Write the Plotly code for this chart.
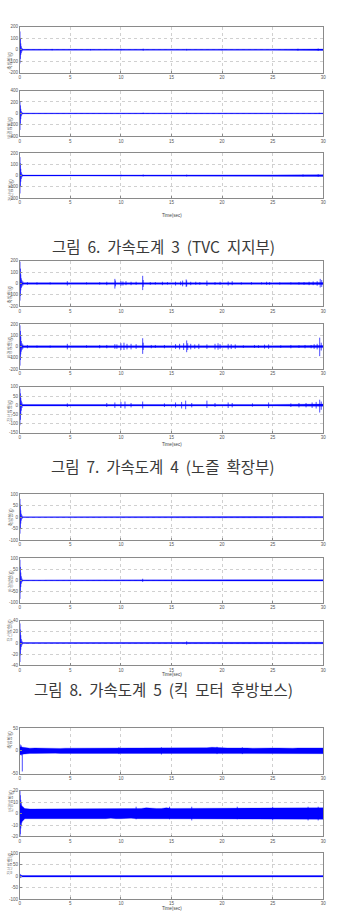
import plotly.graph_objects as go

# ---------------- data ----------------
X_TICKS = [0, 5, 10, 15, 20, 25, 30]
AXIS_NAMES = ["축방향(g)", "반경방향(g)", "접선방향(g)"]
X_TITLE = "Time(sec)"
CAPTIONS = ["그림  6.  가속도계  3  (TVC  지지부)",
            "그림  7.  가속도계  4  (노즐  확장부)",
            "그림  8.  가속도계  5  (킥  모터  후방보스)"]

# y tick values for the 12 panels
Y_TICKS = [
    [-200, -100, 0, 100, 200], [-400, -200, 0, 200, 400], [-200, -100, 0, 100, 200],
    [-200, -100, 0, 100, 200], [-200, -100, 0, 100, 200], [-150, -100, -50, 0, 50, 100],
    [-100, -50, 0, 50, 100], [-100, -50, 0, 50, 100], [-40, -20, 0, 20, 40],
    [-50, 0, 50], [-20, -10, 0, 10, 20], [-100, -50, 0, 50, 100],
]

# envelope of the continuous noise band: times, upper, lower
BAND_T = [0, 5, 10, 15, 20, 25, 30]
F1P1_HI = [4, 3, 4, 4, 4, 5, 6];      F1P1_LO = [-4, -3, -4, -4, -4, -5, -6]
F1P2_HI = [6, 5, 6, 6, 6, 6, 7];      F1P2_LO = [-6, -5, -6, -6, -6, -6, -7]
F1P3_HI = [4, 3, 4, 5, 5, 6, 8];      F1P3_LO = [-4, -3, -4, -5, -5, -6, -8]
F2P1_HI = [7, 6, 7, 7, 7, 7, 8];      F2P1_LO = [-7, -6, -7, -7, -7, -7, -8]
F2P2_HI = [7, 6, 8, 8, 8, 7, 9];      F2P2_LO = [-7, -6, -8, -8, -8, -7, -9]
F2P3_HI = [4, 3.5, 4, 5, 4, 4, 6];    F2P3_LO = [-4, -3.5, -4, -5, -4, -4, -6]
F3P1_HI = [1.5, 1.5, 2, 2, 2, 2.5, 3];  F3P1_LO = [-1.5, -1.5, -2, -2, -2, -2.5, -3]
F3P2_HI = [2, 2, 2, 2, 2, 2.5, 3];      F3P2_LO = [-2, -2, -2, -2, -2, -2.5, -3]
F3P3_HI = [0.8, 0.8, 1, 1, 1, 1.1, 1.3]; F3P3_LO = [-0.8, -0.8, -1, -1, -1, -1.1, -1.3]
F4P3_HI = [3, 3, 3, 3, 3, 3, 3];      F4P3_LO = [-3, -3, -3, -3, -3, -3, -3]

# wider noise bands of figure 8, every 0.5 s
BAND_T_FINE = [i * 0.5 for i in range(61)]
F4P1_HI = [9, 7, 6, 6.5, 6, 6, 6.5, 6, 5.5, 6, 6, 6.5, 6, 6, 6.5, 6, 6, 6.5, 7, 6.5,
           6.5, 7, 7, 6.5, 7, 7.5, 7, 7, 6.5, 7, 7, 7.5, 7, 6.5, 7, 7, 7.5, 7, 8, 7,
           7, 6.5, 6.5, 7, 6.5, 6.5, 6, 6.5, 6.5, 6, 6.5, 6.5, 6, 6.5, 6, 6.5, 6.5, 6, 6.5, 6.5, 6.5]
F4P1_LO = [-8, -6, -5.5, -5.5, -5, -5.5, -5.5, -5, -5.5, -5.5, -5.5, -6, -5.5, -5.5, -6, -5.5, -6, -6, -5.5, -6.5,
           -6, -6, -6.5, -6, -7, -6, -6.5, -6, -6.5, -6.5, -6, -6.5, -7, -6, -6.5, -6, -6.5, -6.5, -6, -7,
           -6, -6.5, -6, -6, -6, -6.5, -6, -6, -6, -6, -6.5, -6, -6, -6, -6, -6.5, -6, -6, -6.5, -6, -6]
F4P2_HI = [8, 4.5, 4, 4, 4, 4.5, 4, 4, 4.5, 4, 4, 4.5, 4, 4.5, 4, 4.5, 4.5, 4, 4.5, 4.5,
           4.5, 4, 4.5, 4.5, 4.5, 5, 4.5, 4.5, 4.5, 5, 4.5, 4.5, 5, 4.5, 4.5, 5, 4.5, 5, 4.5, 4.5,
           4.5, 5, 4.5, 4.5, 5, 4.5, 5, 4.5, 4.5, 5, 4.5, 5, 5, 4.5, 5, 5, 5, 5, 5, 5, 5]
F4P2_LO = [-9, -4.5, -4, -4, -4.5, -4, -4, -4.5, -4, -4, -4.5, -4, -4.5, -4, -4.5, -4, -4.5, -4.5, -4, -4.5,
           -4.5, -4.5, -4, -4.5, -5, -4.5, -4.5, -4.5, -5, -4.5, -4.5, -5, -4.5, -4.5, -5, -4.5, -4.5, -5, -4.5, -4.5,
           -4.5, -4.5, -5, -4.5, -4.5, -4.5, -5, -4.5, -4.5, -4.5, -5, -4.5, -4.5, -5, -4.5, -5, -4.5, -5, -5, -5, -5]

# bursts / spikes: (time, upper, lower)
F1P1_SPK = [(0.02, 160, -120), (0.06, 100, -80), (0.1, 55, -45), (0.15, 30, -30), (0.22, 15, -15),
            (3.2, 7, -5), (7.0, 6, -5), (10.0, 8, -6), (12.2, 9, -8), (16.5, 7, -6), (20.0, 7, -5),
            (27.5, 9, -8), (29.5, 11, -10)]
F1P2_SPK = [(0.02, 215, -290), (0.06, 140, -180), (0.1, 80, -100), (0.15, 40, -50), (0.22, 20, -20),
            (12.2, 12, -10), (16.5, 12, -10), (29.6, 10, -10)]
F1P3_SPK = [(0.02, 165, -160), (0.06, 110, -100), (0.1, 60, -55), (0.15, 30, -30), (0.22, 15, -15),
            (10.0, 8, -7), (12.2, 9, -8), (16.5, 8, -8), (28.0, 10, -9), (29.5, 12, -11)]
F2P1_SPK = [(0.02, 190, -150), (0.06, 130, -110), (0.1, 80, -60), (0.15, 45, -40), (0.2, 30, -30), (0.3, 20, -20),
            (0.75, 12, -12), (1.7, 10, -10), (3.0, 10, -8), (4.7, 20, -18), (6.6, 10, -8), (7.9, 12, -10),
            (8.6, 15, -15), (9.4, 40, -45), (9.45, 25, -25), (10.0, 20, -20), (10.2, 18, -18), (10.5, 20, -15),
            (11.0, 15, -15), (11.5, 15, -12), (12.15, 67, -58), (12.2, 30, -30), (12.9, 12, -12), (13.4, 12, -10),
            (14.1, 15, -15), (14.6, 12, -10), (15.4, 15, -18), (15.9, 18, -15), (16.1, 25, -25), (16.45, 35, -30),
            (16.5, 25, -25), (16.9, 15, -15), (17.4, 15, -12), (17.8, 12, -12), (18.5, 25, -22), (19.3, 12, -12),
            (19.8, 15, -12), (20.6, 18, -18), (21.0, 20, -15), (21.9, 10, -10), (22.9, 12, -10), (23.9, 10, -8),
            (24.4, 15, -12), (24.7, 12, -12), (25.7, 10, -10), (26.8, 10, -8), (27.6, 12, -10), (28.1, 12, -12),
            (28.6, 15, -15), (29.0, 18, -15), (29.4, 20, -20), (29.7, 40, -35), (29.85, 30, -30)]
F2P2_SPK = [(0.02, 190, -170), (0.06, 140, -120), (0.1, 90, -70), (0.15, 50, -45), (0.22, 30, -30), (0.3, 20, -20),
            (0.75, 15, -15), (1.7, 10, -10), (3.0, 10, -10), (4.7, 25, -25), (6.6, 12, -10), (7.9, 15, -15),
            (8.6, 15, -15), (9.4, 22, -20), (9.6, 20, -20), (10.0, 30, -30), (10.3, 35, -30), (10.6, 25, -25),
            (11.0, 25, -25), (11.5, 22, -20), (12.15, 75, -65), (12.2, 35, -30), (13.0, 15, -15), (13.4, 15, -12),
            (14.3, 15, -15), (15.4, 22, -20), (15.8, 25, -25), (16.2, 30, -30), (16.5, 55, -50), (16.6, 30, -30),
            (16.9, 25, -25), (17.3, 20, -20), (17.7, 25, -22), (18.5, 20, -20), (19.3, 25, -25), (19.6, 30, -28),
            (19.8, 22, -20), (20.6, 25, -25), (20.9, 22, -22), (21.3, 20, -20), (22.1, 12, -12), (23.2, 15, -12),
            (23.6, 12, -12), (24.2, 18, -18), (24.6, 20, -20), (25.8, 12, -12), (26.8, 15, -15), (27.6, 12, -12),
            (28.2, 15, -15), (28.8, 15, -15), (29.1, 22, -20), (29.4, 25, -25), (29.65, 80, -85), (29.8, 35, -35)]
F2P3_SPK = [(0.02, 90, -110), (0.06, 65, -80), (0.1, 40, -50), (0.15, 25, -30), (0.22, 15, -15),
            (4.7, 10, -10), (8.6, 12, -10), (9.4, 15, -15), (10.0, 18, -15), (10.4, 20, -18), (11.0, 12, -12),
            (12.15, 20, -18), (14.3, 10, -10), (15.4, 15, -12), (16.0, 18, -18), (16.4, 25, -22), (17.0, 12, -12),
            (18.5, 25, -15), (19.3, 12, -10), (20.6, 15, -15), (21.0, 12, -12), (23.0, 10, -8), (24.6, 15, -15),
            (26.8, 10, -10), (27.6, 12, -12), (28.3, 12, -12), (28.9, 15, -15), (29.3, 18, -18), (29.65, 30, -40),
            (29.8, 20, -25)]
F3P1_SPK = [(0.02, 80, -72), (0.06, 55, -50), (0.1, 30, -28), (0.15, 15, -15), (0.22, 8, -8)]
F3P2_SPK = [(0.02, 92, -83), (0.06, 60, -55), (0.1, 35, -30), (0.15, 18, -15), (0.22, 8, -8), (12.15, 7, -7)]
F3P3_SPK = [(0.02, 35, -34), (0.06, 24, -22), (0.1, 14, -12), (0.15, 7, -7), (0.22, 4, -4), (16.5, 3, -3)]
F4P1_SPK = [(0.05, 14, -9), (0.15, 12, -10), (0.25, 0, -45), (9.8, 8, -7), (14.0, 8, -8), (19.5, 9, -7), (22.0, 8, -7)]
F4P2_SPK = [(0.02, 20, -20), (0.05, 16, -18), (0.1, 12, -13), (0.15, 9, -10), (0.2, 7, -8), (0.3, 6, -6),
            (11.5, 6, -5), (14.8, 6, -5), (17.0, 6, -6), (21.5, 6, -5), (25.0, 6, -6), (28.5, 6, -6), (29.5, 6, -6)]
F4P3_SPK = [(0.05, 10, -8), (0.15, 6, -5)]

PANELS = [
    (BAND_T, F1P1_HI, F1P1_LO, F1P1_SPK), (BAND_T, F1P2_HI, F1P2_LO, F1P2_SPK), (BAND_T, F1P3_HI, F1P3_LO, F1P3_SPK),
    (BAND_T, F2P1_HI, F2P1_LO, F2P1_SPK), (BAND_T, F2P2_HI, F2P2_LO, F2P2_SPK), (BAND_T, F2P3_HI, F2P3_LO, F2P3_SPK),
    (BAND_T, F3P1_HI, F3P1_LO, F3P1_SPK), (BAND_T, F3P2_HI, F3P2_LO, F3P2_SPK), (BAND_T, F3P3_HI, F3P3_LO, F3P3_SPK),
    (BAND_T_FINE, F4P1_HI, F4P1_LO, F4P1_SPK), (BAND_T_FINE, F4P2_HI, F4P2_LO, F4P2_SPK), (BAND_T, F4P3_HI, F4P3_LO, F4P3_SPK),
]

# ---------------- layout (pixels) ----------------
W, H = 347, 921
X_LEFT, X_RIGHT = 19, 326
PANEL_PX = [(25, 71), (89, 135), (152, 197),
            (260, 306), (324, 369), (387, 433),
            (495, 541), (559, 604), (622, 667),
            (730, 776), (793, 839), (856, 902)]
XTITLE_PX = [210, 445, 681, 916]
CAPTION_PX = [232, 467, 704]
CAPTION_X = 164

BLUE = "#0000ff"
TICKFONT = dict(family="Liberation Sans, Arial", size=4.5, color="#555")


def py(p):
    return 1 - p / H


fig = go.Figure()
layout = {}
annotations = []
for i, ((bt, hi, lo, spk), (top, bot), yt) in enumerate(zip(PANELS, PANEL_PX, Y_TICKS)):
    n = "" if i == 0 else str(i + 1)
    xa, ya = "x" + n, "y" + n
    fig.add_trace(go.Scatter(
        x=list(bt) + list(bt)[::-1], y=list(hi) + list(lo)[::-1],
        xaxis=xa, yaxis=ya, mode="lines", fill="toself", fillcolor=BLUE,
        line=dict(color=BLUE, width=0.3), hoverinfo="skip", showlegend=False))
    sx, sy = [], []
    for t, h, l in spk:
        sx += [t, t, None]
        sy += [l, h, None]
    fig.add_trace(go.Scatter(x=sx, y=sy, xaxis=xa, yaxis=ya, mode="lines",
                             line=dict(color=BLUE, width=0.7), hoverinfo="skip", showlegend=False))
    common = dict(showgrid=True, gridcolor="#d0d0d0", griddash="dot", gridwidth=0.6,
                  showline=True, mirror=True, linecolor="#8a8a8a", linewidth=0.8,
                  ticks="inside", ticklen=2, tickcolor="#8a8a8a", tickwidth=0.6,
                  zeroline=False, tickfont=TICKFONT)
    layout["xaxis" + n] = dict(domain=[X_LEFT / W, X_RIGHT / W], anchor=ya, range=[0, 30],
                               tickvals=X_TICKS, ticktext=[str(v) for v in X_TICKS], **common)
    layout["yaxis" + n] = dict(domain=[py(bot), py(top)], anchor=xa, range=[yt[0], yt[-1]],
                               tickvals=yt, ticktext=[str(v) for v in yt], **common)
    annotations.append(dict(x=3.5 / W, y=py((top + bot) / 2), xref="paper", yref="paper",
                            text=AXIS_NAMES[i % 3], textangle=-90, showarrow=False,
                            font=dict(family="Noto Sans CJK KR", size=4.5, color="#666")))

for yp in XTITLE_PX:
    annotations.append(dict(x=(X_LEFT + X_RIGHT) / 2 / W, y=py(yp), xref="paper", yref="paper",
                            text=X_TITLE, showarrow=False,
                            font=dict(family="Liberation Sans, Arial", size=4.5, color="#444")))
for cap, yp in zip(CAPTIONS, CAPTION_PX):
    annotations.append(dict(x=CAPTION_X / W, y=py(yp), xref="paper", yref="paper",
                            text=cap.replace(" ", "\u00a0"), showarrow=False,
                            font=dict(family="Noto Sans CJK KR", size=15.5, color="#3a3a3a")))

fig.update_layout(width=W, height=H, margin=dict(l=0, r=0, t=0, b=0),
                  paper_bgcolor="white", plot_bgcolor="white",
                  annotations=annotations, **layout)
fig.write_html("out.html")
